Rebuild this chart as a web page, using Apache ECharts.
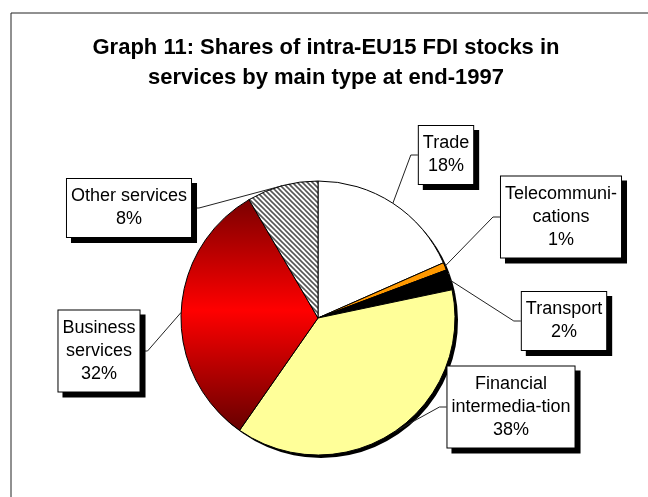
<!DOCTYPE html>
<html>
<head>
<meta charset="utf-8">
<script src="https://cdn.jsdelivr.net/npm/echarts@6/dist/echarts.min.js"></script>
<style>
  html, body { margin: 0; padding: 0; background: #fff; }
  #main { width: 648px; height: 497px; }
</style>
</head>
<body>
<div id="main"></div>
<script>
// data (shares of intra-EU15 FDI stocks in services, %)
var categories = ['Trade', 'Telecommuni-\ncations', 'Transport', 'Financial\nintermedia-tion', 'Business\nservices', 'Other services'];
var shares = [18.4, 0.9, 2.4, 38.0, 31.9, 8.4];

// where the label boxes sit (box centres)
var labelBoxCenters = [[446, 155], [561, 217], [564, 321], [511, 407], [99, 351], [129, 208]];

// hatched fill for "Other services"
var hatch = document.createElement('canvas');
hatch.width = 10; hatch.height = 10;
var hctx = hatch.getContext('2d');
hctx.fillStyle = '#fff';
hctx.fillRect(0, 0, 10, 10);
hctx.strokeStyle = '#555';
hctx.lineWidth = 1.6;
for (var k = -3; k <= 3; k++) {
  hctx.beginPath();
  hctx.moveTo(-2, -2 + 5 * k);
  hctx.lineTo(12, 12 + 5 * k);
  hctx.stroke();
}

var sliceColors = [
  '#ffffff',
  '#ff9900',
  '#000000',
  '#ffff99',
  { type: 'linear', x: 0, y: 0, x2: 0, y2: 1, colorStops: [
      { offset: 0, color: '#7a0000' },
      { offset: 0.48, color: '#ff0000' },
      { offset: 1, color: '#660000' }
  ] },
  { image: hatch, repeat: 'repeat' }
];

var pieData = categories.map(function (name, i) {
  return { name: name, value: shares[i], itemStyle: { color: sliceColors[i] } };
});

var chart = echarts.init(document.getElementById('main'));
chart.setOption({
  animation: false,
  backgroundColor: '#fff',
  textStyle: { fontFamily: '"Liberation Sans", Arial, sans-serif' },
  graphic: [{  // outer frame
    type: 'rect',
    shape: { x: 11, y: 13, width: 700, height: 600 },
    style: { fill: null, stroke: '#222', lineWidth: 1 },
    silent: true
  }],
  title: {
    text: 'Graph 11: Shares of intra-EU15 FDI stocks in\nservices by main type at end-1997',
    left: 321,
    top: 28,
    textAlign: 'center',
    textStyle: {
      fontFamily: '"Liberation Sans", Arial, sans-serif',
      fontSize: 22,
      fontWeight: 'bold',
      color: '#000',
      lineHeight: 30
    }
  },
  series: [
    {  // drop shadow under the pie
      type: 'pie',
      silent: true,
      center: [321, 321],
      radius: 137,
      startAngle: 90,
      z: 1,
      label: { show: false },
      labelLine: { show: false },
      itemStyle: { color: '#000', borderWidth: 0 },
      data: shares.map(function (v) { return { value: v }; })
    },
    {
      type: 'pie',
      center: [318, 318],
      radius: 137,
      startAngle: 90,
      z: 2,
      avoidLabelOverlap: false,
      itemStyle: { borderColor: '#000', borderWidth: 1 },
      label: {
        show: true,
        position: 'outside',
        formatter: function (p) { return p.name + '\n' + Math.round(p.percent) + '%'; },
        fontFamily: '"Liberation Sans", Arial, sans-serif',
        fontSize: 18,
        lineHeight: 23,
        color: '#000',
        align: 'center',
        backgroundColor: '#fff',
        borderColor: '#000',
        borderWidth: 1,
        padding: [6, 4],
        shadowColor: '#000',
        shadowBlur: 0,
        shadowOffsetX: 5,
        shadowOffsetY: 5
      },
      labelLine: {
        show: true,
        lineStyle: { color: '#222', width: 1 }
      },
      labelLayout: function (params) {
        var c = labelBoxCenters[params.dataIndex];
        var w = params.labelRect.width;
        var start = params.labelLinePoints ? params.labelLinePoints[0] : [318, 318];
        var isLeft = c[0] < 318;
        var side = isLeft ? c[0] + w / 2 : c[0] - w / 2;
        var elbow = isLeft ? side + 7 : side - 7;
        return {
          x: c[0],
          y: c[1],
          align: 'center',
          verticalAlign: 'middle',
          labelLinePoints: [start, [elbow, c[1]], [side, c[1]]]
        };
      },
      data: pieData
    }
  ]
});
</script>
</body>
</html>
